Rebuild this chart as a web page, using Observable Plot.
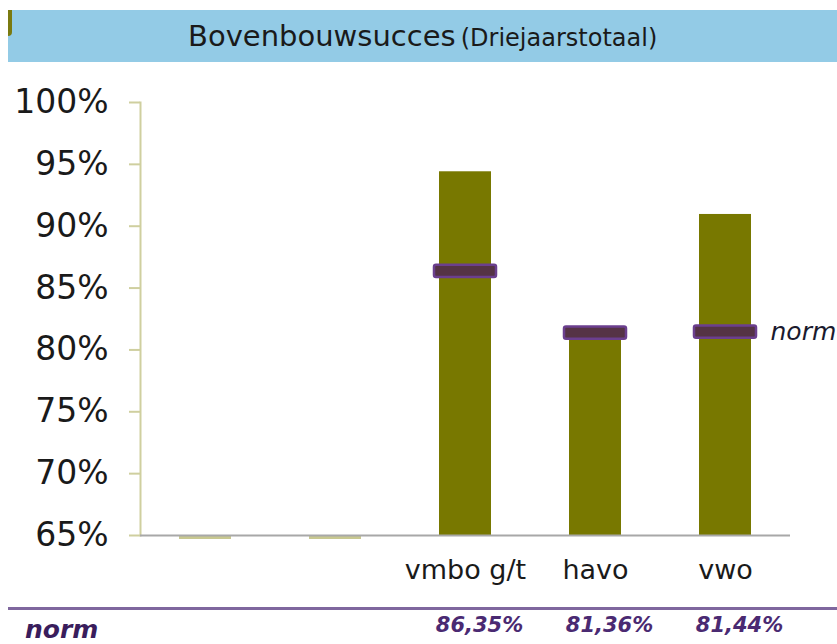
<!DOCTYPE html>
<html>
<head>
<meta charset="utf-8">
<script src="https://cdn.jsdelivr.net/npm/d3@7"></script>
<script src="https://cdn.jsdelivr.net/npm/@observablehq/plot@0.6"></script>
<style>
  html, body { margin: 0; padding: 0; background: #fff; }
  #wrap { position: relative; width: 837px; height: 644px; overflow: hidden; font-family: "DejaVu Sans", sans-serif; }
  #banner { position: absolute; left: 8px; top: 10px; width: 829px; height: 52px; background: #93cbe6; }
  #banner .t { position: absolute; left: 180px; top: 9px; white-space: nowrap; color: #1a1a1a; }
  #banner .t1 { font-size: 29px; }
  #banner .t2 { font-size: 24px; }
  #nub { position: absolute; left: 8px; top: 10px; width: 4px; height: 26px; background: #7a7a10; border-radius: 0 0 4px 0; }
  #chart { position: absolute; left: 0; top: 0; }
  #line { position: absolute; left: 8px; top: 607px; width: 829px; height: 3px; background: #7f679e; }
  #normlab { position: absolute; left: 25px; top: 615px; font-size: 25px; font-weight: bold; font-style: italic; color: #3a1d5c; }
</style>
</head>
<body>
<div id="wrap">
  <div id="chart"></div>
  <div id="banner"><span class="t"><span class="t1">Bovenbouwsucces</span> <span class="t2">(Driejaarstotaal)</span></span></div>
  <div id="nub"></div>
  <div id="line"></div>
  <div id="normlab">norm</div>
</div>
<script>
const categories = ["leeg1", "leeg2", "vmbo g/t", "havo", "vwo"];
const labels = ["", "", "vmbo g/t", "havo", "vwo"];
const values = [null, null, 94.4, 81.2, 90.95];
const norms = [null, null, 86.35, 81.36, 81.44];
const yTicks = [65, 70, 75, 80, 85, 90, 95, 100];
const normLabel = "norm";

const data = categories.map((c, i) => ({cat: c, label: labels[i], value: values[i], norm: norms[i]}));
const bars = data.filter(d => d.value != null);
const empty = data.filter(d => d.value == null);
const normed = data.filter(d => d.norm != null);
const labelOf = Object.fromEntries(categories.map((c, i) => [c, labels[i]]));
const fmt = v => v.toFixed(2).replace(".", ",") + "%";

const plot = Plot.plot({
  width: 837,
  height: 644,
  marginTop: 102,
  marginBottom: 109,
  marginLeft: 140,
  marginRight: 47,
  style: {fontFamily: "DejaVu Sans, sans-serif", background: "transparent", overflow: "visible"},
  x: {domain: categories, paddingInner: 0.6, paddingOuter: 0.3},
  y: {domain: [65, 100]},
  marks: [
    Plot.frame({anchor: "left", stroke: "#cfcf9f", strokeWidth: 2}),
    Plot.axisY({ticks: yTicks, tickFormat: d => d + "%", tickSize: 11, tickPadding: 21, fontSize: 33, stroke: "#cfcf9f", strokeWidth: 2, fill: "#1a1a1a", label: null}),
    Plot.axisX({tickSize: 0, tickPadding: 24, fontSize: 27, fill: "#1a1a1a", tickFormat: d => labelOf[d], label: null}),
    Plot.barY(bars, {x: "cat", y1: 65, y2: "value", fill: "#787800"}),
    Plot.tickY(empty, {x: "cat", y: 65, stroke: "#c8c890", strokeWidth: 3, dy: 2}),
    Plot.ruleY([65], {stroke: "#a8a8a8", strokeWidth: 2}),
    Plot.barY(normed, {x: "cat", y1: d => d.norm - 0.5, y2: d => d.norm + 0.5, fill: "#553345", stroke: "#6b3f8e", strokeWidth: 2.5, insetLeft: -5, insetRight: -5, rx: 2}),
    Plot.text(normed.slice(-1), {x: "cat", y: "norm", text: () => normLabel, dx: 45, textAnchor: "start", fontSize: 25, fontStyle: "italic", fill: "#1a1a2e"}),
    Plot.text(normed, {x: "cat", text: d => fmt(d.norm), frameAnchor: "bottom", dy: 96, dx: 14, fontSize: 21, fontWeight: "bold", fontStyle: "italic", fill: "#4a2a72"})
  ]
});
document.getElementById("chart").appendChild(plot);
</script>
</body>
</html>
